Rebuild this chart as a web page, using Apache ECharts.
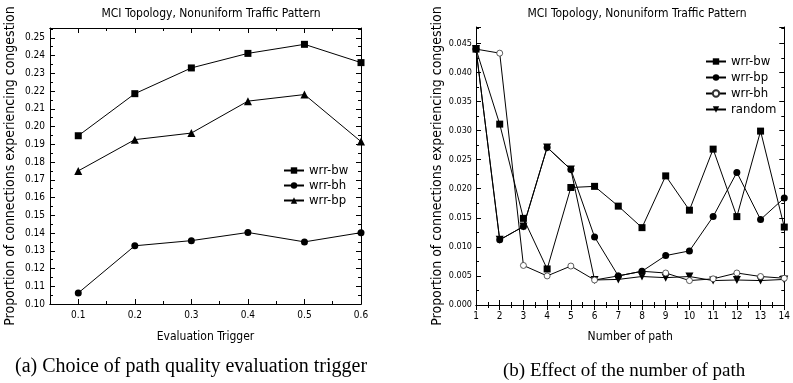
<!DOCTYPE html>
<html>
<head>
<meta charset="utf-8">
<script src="https://cdn.jsdelivr.net/npm/echarts@6/dist/echarts.min.js"></script>
<style>
  html, body { margin: 0; padding: 0; background: #fff; }
  #chart { width: 793px; height: 383px; }
</style>
</head>
<body>
<div id="chart"></div>
<script>
// (a) evaluation trigger
const triggerValues = [0.1, 0.2, 0.3, 0.4, 0.5, 0.6]
const triggerMinor = [0.15, 0.25, 0.35, 0.45, 0.55]
const trigBw = [0.1948, 0.2185, 0.2330, 0.2412, 0.2463, 0.2360]
const trigBh = [0.1062, 0.1328, 0.1357, 0.1403, 0.1350, 0.1402]
const trigBp = [0.1750, 0.1926, 0.1963, 0.2143, 0.2180, 0.1915]

// (b) number of path
const pathCounts = [1, 2, 3, 4, 5, 6, 7, 8, 9, 10, 11, 12, 13, 14]
const pathBw = [0.0440, 0.0311, 0.0149, 0.0062, 0.0202, 0.0204, 0.0170, 0.0133, 0.0222, 0.0163, 0.0268, 0.0152, 0.0299, 0.0134]
const pathBp = [0.0440, 0.0112, 0.0135, 0.0271, 0.0233, 0.0117, 0.0050, 0.0058, 0.0085, 0.0093, 0.0152, 0.0228, 0.0147, 0.0184]
const pathBh = [0.0440, 0.0433, 0.0068, 0.0050, 0.0067, 0.0043, 0.0050, 0.0058, 0.0055, 0.0042, 0.0045, 0.0055, 0.0049, 0.0046]
const pathRandom = [0.0440, 0.0112, 0.0135, 0.0271, 0.0233, 0.0043, 0.0044, 0.0049, 0.0047, 0.0049, 0.0042, 0.0043, 0.0042, 0.0044]

const NARROW = "'DejaVu Sans Condensed', 'Liberation Sans Narrow', sans-serif"
const SERIF = "'Liberation Serif', 'Times New Roman', serif"

const pairs = (xs, ys) => xs.map((x, i) => [x, ys[i]])
// series of panel (b) get a prefix so the two legends don't mix them up
const stripPrefix = name => name.replace(/^b:/, '')

const line = { show: true, lineStyle: { color: '#000', width: 1 } }
const tickStyle = { color: '#000', width: 1 }

// mirror / minor axis without labels
function bareX(grid, pos, min, max, extra) {
	return Object.assign({
		gridIndex: grid, type: 'value', position: pos, min: min, max: max,
		axisLine: line, splitLine: { show: false },
		axisLabel: { show: false }
	}, extra)
}

function makeSeries(name, xIdx, yIdx, data, symbol, size, opts) {
	opts = opts || {}
	return {
		name: name, type: 'line', xAxisIndex: xIdx, yAxisIndex: yIdx,
		data: data, symbol: symbol, symbolSize: size, symbolRotate: opts.rotate || 0,
		showAllSymbol: true, animation: false,
		lineStyle: { color: '#000', width: 1 },
		itemStyle: opts.hollow
			? { color: '#fff', borderColor: '#333', borderWidth: 0.8 }
			: { color: '#000', borderWidth: 0 },
		emphasis: { disabled: true }
	}
}

const chart = echarts.init(document.getElementById('chart'), null, { renderer: 'canvas' })

const titleStyle = { fontFamily: NARROW, fontSize: 12, fontWeight: 'normal', color: '#000' }
const legendText = { fontFamily: NARROW, fontSize: 13, color: '#000' }
const tickLabel = { fontFamily: NARROW, fontSize: 10, color: '#000' }

const option = {
	backgroundColor: '#fff',
	animation: false,
	title: [
		{ text: 'MCI Topology, Nonuniform Traffic Pattern', left: 206, top: 3, textAlign: 'center', textStyle: titleStyle },
		{ text: 'MCI Topology, Nonuniform Traffic Pattern', left: 632, top: 3, textAlign: 'center', textStyle: titleStyle }
	],
	grid: [
		{ left: 50, right: 432, top: 28, bottom: 79 },
		{ left: 476, right: 5, top: 27, bottom: 78 }
	],
	legend: [
		{ data: ['wrr-bw', 'wrr-bh', 'wrr-bp'], orient: 'vertical', left: 278, top: 159,
			itemWidth: 20, itemHeight: 8, itemGap: 2, textStyle: legendText },
		{ data: ['b:wrr-bw', 'b:wrr-bp', 'b:wrr-bh', 'b:random'], orient: 'vertical', left: 700, top: 50,
			itemWidth: 20, itemHeight: 8, itemGap: 3, textStyle: legendText, formatter: stripPrefix }
	],
	xAxis: [
		// 0: left bottom, labelled
		{
			gridIndex: 0, type: 'value', position: 'bottom', min: 0.05, max: 0.6,
			name: 'Evaluation Trigger', nameLocation: 'middle', nameGap: 27,
			nameTextStyle: { fontFamily: NARROW, fontSize: 12, color: '#000' },
			axisLine: line, splitLine: { show: false },
			axisTick: { show: true, inside: true, length: 5, customValues: triggerValues, lineStyle: tickStyle },
			axisLabel: Object.assign({ customValues: triggerValues, margin: 6, formatter: v => v.toFixed(1) }, tickLabel)
		},
		// 1: left bottom minor ticks
		bareX(0, 'bottom', 0.05, 0.6, { axisTick: { show: true, inside: true, length: 3, customValues: triggerMinor, lineStyle: tickStyle } }),
		// 2: left top major
		bareX(0, 'top', 0.05, 0.6, { axisTick: { show: true, inside: true, length: 5, customValues: triggerValues, lineStyle: tickStyle } }),
		// 3: left top minor
		bareX(0, 'top', 0.05, 0.6, { axisTick: { show: true, inside: true, length: 3, customValues: triggerMinor, lineStyle: tickStyle } }),
		// 4: right bottom, labelled
		{
			gridIndex: 1, type: 'value', position: 'bottom', min: 1, max: 14, interval: 1,
			name: 'Number of path', nameLocation: 'middle', nameGap: 26,
			nameTextStyle: { fontFamily: NARROW, fontSize: 12, color: '#000' },
			axisLine: line, splitLine: { show: false },
			axisTick: { show: true, inside: true, length: 5, lineStyle: tickStyle },
			minorTick: { show: true, splitNumber: 2, length: 3, lineStyle: tickStyle },
			axisLabel: Object.assign({ margin: 6 }, tickLabel)
		},
		// 5: right top mirror
		bareX(1, 'top', 1, 14, {
			interval: 1,
			axisTick: { show: true, inside: true, length: 5, lineStyle: tickStyle },
			minorTick: { show: true, splitNumber: 2, length: 3, lineStyle: tickStyle }
		})
	],
	yAxis: [
		{
			gridIndex: 0, type: 'value', position: 'left', min: 0.10, max: 0.2555, interval: 0.01,
			name: 'Proportion of connections experiencing congestion', nameLocation: 'middle', nameGap: 33,
			nameTextStyle: { fontFamily: NARROW, fontSize: 14, color: '#000' },
			axisLine: line, splitLine: { show: false },
			axisTick: { show: true, inside: true, length: 5, lineStyle: tickStyle },
			minorTick: { show: true, splitNumber: 2, length: 3, lineStyle: tickStyle },
			axisLabel: Object.assign({ margin: 5, showMaxLabel: false, formatter: v => v.toFixed(2) }, tickLabel)
		},
		{
			gridIndex: 0, type: 'value', position: 'right', min: 0.10, max: 0.2555, interval: 0.01,
			axisLine: line, splitLine: { show: false }, axisLabel: { show: false },
			axisTick: { show: true, inside: true, length: 5, lineStyle: tickStyle },
			minorTick: { show: true, splitNumber: 2, length: 3, lineStyle: tickStyle }
		},
		{
			gridIndex: 1, type: 'value', position: 'left', min: 0, max: 0.0478, interval: 0.005,
			name: 'Proportion of connections experiencing congestion', nameLocation: 'middle', nameGap: 32,
			nameTextStyle: { fontFamily: NARROW, fontSize: 14, color: '#000' },
			axisLine: line, splitLine: { show: false },
			axisTick: { show: true, inside: true, length: 5, lineStyle: tickStyle },
			minorTick: { show: true, splitNumber: 2, length: 3, lineStyle: tickStyle },
			axisLabel: Object.assign({ margin: 4, showMaxLabel: false, formatter: v => v.toFixed(3) }, tickLabel, { fontSize: 9 })
		},
		{
			gridIndex: 1, type: 'value', position: 'right', min: 0, max: 0.0478, interval: 0.005,
			axisLine: line, splitLine: { show: false }, axisLabel: { show: false },
			axisTick: { show: true, inside: true, length: 5, lineStyle: tickStyle },
			minorTick: { show: true, splitNumber: 2, length: 3, lineStyle: tickStyle }
		}
	],
	series: [
		makeSeries('wrr-bw', 0, 0, pairs(triggerValues, trigBw), 'rect', 7),
		makeSeries('wrr-bh', 0, 0, pairs(triggerValues, trigBh), 'circle', 7),
		makeSeries('wrr-bp', 0, 0, pairs(triggerValues, trigBp), 'triangle', 8),
		makeSeries('b:random', 4, 2, pairs(pathCounts, pathRandom), 'triangle', 8, { rotate: 180 }),
		makeSeries('b:wrr-bh', 4, 2, pairs(pathCounts, pathBh), 'circle', 6, { hollow: true }),
		makeSeries('b:wrr-bp', 4, 2, pairs(pathCounts, pathBp), 'circle', 7),
		makeSeries('b:wrr-bw', 4, 2, pairs(pathCounts, pathBw), 'rect', 7)
	],
	graphic: [
		{ type: 'text', left: 15, top: 357,
			style: { text: '(a) Choice of path quality evaluation trigger', font: '20px ' + SERIF, fill: '#000' } },
		{ type: 'text', left: 503, top: 362,
			style: { text: '(b) Effect of the number of path', font: '19px ' + SERIF, fill: '#000' } }
	]
}

chart.setOption(option)
</script>
</body>
</html>
